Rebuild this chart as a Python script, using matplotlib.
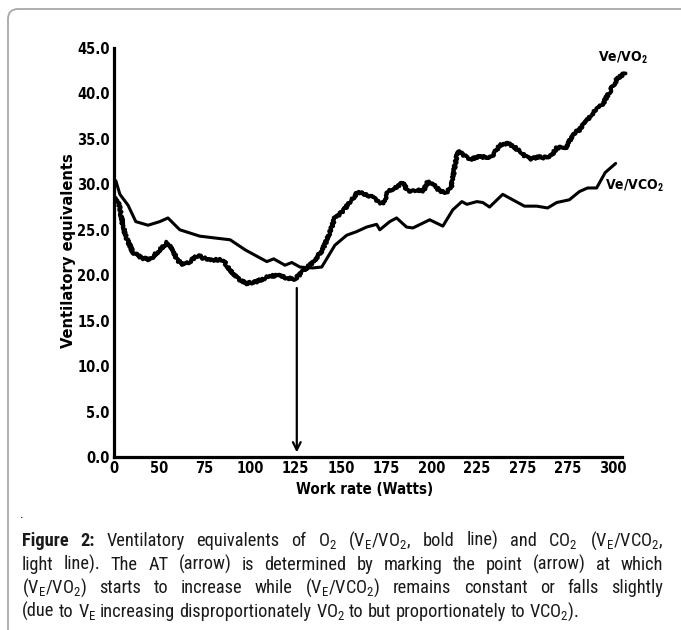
import matplotlib
matplotlib.use("Agg")
import matplotlib.pyplot as plt
from matplotlib import font_manager
from matplotlib.patches import FancyBboxPatch
from matplotlib.transforms import IdentityTransform

# ---- data -------------------------------------------------------------
# x positions are the evenly spaced work-rate marks on the axis (0..11)
x_tick_labels = ["0", "50", "75", "100", "125", "150", "175", "200",
                 "225", "275", "275", "300"]
y_tick_values = [0, 5, 10, 15, 20, 25, 30, 35, 40, 45]

# Ve/VCO2 (light line)
vco2_x = [0.04, 0.13, 0.31, 0.48, 0.75, 1.01, 1.19, 1.45, 1.89, 2.22, 2.56,
          2.89, 3.22, 3.37, 3.52, 3.77, 3.92, 4.10, 4.38, 4.58, 4.87, 5.13,
          5.35, 5.57, 5.79, 5.86, 6.08, 6.23, 6.45, 6.59, 6.96, 7.25, 7.47,
          7.67, 7.78, 8.00, 8.13, 8.28, 8.57, 8.79, 9.05, 9.32, 9.56, 9.76,
          10.04, 10.26, 10.44, 10.64, 10.83, 11.06]
vco2_y = [30.4, 28.9, 27.7, 25.9, 25.5, 25.9, 26.3, 25.0, 24.3, 24.1, 23.9,
          22.8, 21.9, 21.5, 21.8, 21.1, 21.4, 20.9, 20.8, 20.9, 23.3, 24.4,
          24.8, 25.3, 25.6, 25.0, 25.9, 26.3, 25.3, 25.2, 26.1, 25.4, 27.2,
          28.1, 27.8, 28.1, 28.0, 27.5, 28.9, 28.3, 27.6, 27.6, 27.4, 28.0,
          28.3, 29.2, 29.6, 29.6, 31.3, 32.3]

# Ve/VO2 (bold line)
vo2_x = [0.04, 0.13, 0.20, 0.29, 0.42, 0.62, 0.79, 0.95, 1.17, 1.28, 1.39,
         1.52, 1.67, 1.85, 1.96, 2.18, 2.40, 2.51, 2.71, 2.93, 3.15, 3.37,
         3.59, 3.81, 3.99, 4.16, 4.38, 4.60, 4.76, 4.87, 5.04, 5.24, 5.37,
         5.57, 5.79, 5.93, 6.04, 6.19, 6.37, 6.48, 6.67, 6.81, 6.92, 7.07,
         7.18, 7.33, 7.44, 7.51, 7.58, 7.69, 7.84, 8.00, 8.13, 8.33, 8.50,
         8.68, 8.83, 9.01, 9.16, 9.38, 9.60, 9.76, 9.98, 10.11, 10.26, 10.44,
         10.59, 10.77, 10.93, 11.08, 11.26]
vo2_y = [28.5, 27.5, 25.3, 23.9, 22.5, 21.9, 21.7, 22.5, 23.6, 23.0, 21.7,
         21.1, 21.5, 22.2, 21.9, 21.7, 21.7, 20.9, 19.7, 19.1, 19.3, 19.8,
         20.0, 19.7, 19.6, 20.4, 21.4, 22.8, 24.7, 26.3, 27.0, 28.3, 29.1,
         28.9, 28.3, 27.8, 29.2, 29.6, 30.2, 29.2, 29.4, 29.2, 30.3, 30.0,
         29.2, 29.1, 29.7, 31.9, 33.6, 33.3, 32.7, 33.0, 33.0, 33.0, 34.3,
         34.5, 34.1, 33.3, 32.8, 33.0, 32.9, 34.0, 34.1, 35.5, 36.0, 37.1,
         38.0, 38.8, 40.2, 41.5, 42.3]

# anaerobic threshold marker
at_x = 4.03
at_top = 18.9

caption_lines = [
    "Figure 2: Ventilatory equivalents of O$_2$ (V$_{\\mathrm{E}}$/VO$_2$, bold line) "
    "and CO$_2$ (V$_{\\mathrm{E}}$/VCO$_2$,",
    "light line). The AT (arrow) is determined by marking the point (arrow) at which",
    "(V$_{\\mathrm{E}}$/VO$_2$) starts to increase while (V$_{\\mathrm{E}}$/VCO$_2$) "
    "remains constant or falls slightly",
    "(due to V$_{\\mathrm{E}}$ increasing disproportionately VO$_2$ to but "
    "proportionately to VCO$_2$).",
]

# ---- fonts ------------------------------------------------------------
installed = {f.name for f in font_manager.fontManager.ttflist}


def first_installed(prefs, default):
    for name in prefs:
        if name in installed:
            return name
    return default


cap_family = first_installed(["Liberation Sans Narrow", "Roboto Condensed",
                              "Archivo Narrow", "PT Sans Narrow"], None)
cap_size = 13.2 if cap_family else 11.2
if cap_family is None:
    cap_family = "Liberation Sans"
hand = dict(family="DejaVu Sans", fontweight="bold", fontstretch="condensed")

plt.rcParams["mathtext.fontset"] = "custom"
plt.rcParams["mathtext.rm"] = cap_family
plt.rcParams["mathtext.it"] = cap_family + ":italic"
plt.rcParams["mathtext.bf"] = cap_family + ":bold"

FW, FH, DPI = 681, 630, 100
fig = plt.figure(figsize=(FW / DPI, FH / DPI), dpi=DPI)
fig.patch.set_facecolor("white")

# ---- axes -------------------------------------------------------------
ax = fig.add_axes([114 / FW, (FH - 457) / FH, 508 / FW, 409 / FH])
ax.set_xlim(0, 11.2)
ax.set_ylim(0, 45)
for side in ("top", "right"):
    ax.spines[side].set_visible(False)
for side in ("left", "bottom"):
    ax.spines[side].set_linewidth(2.3)
    ax.spines[side].set_color("black")

tick_fs = 10.5
ax.set_xticks(range(len(x_tick_labels)))
ax.set_xticklabels(x_tick_labels, fontsize=tick_fs, **hand)
ax.set_yticks(y_tick_values)
ax.set_yticklabels([f"{v:.1f}" for v in y_tick_values], fontsize=tick_fs,
                   **hand)
ax.tick_params(length=0, pad=3)

ln_co2, = ax.plot(vco2_x, vco2_y, color="black", lw=2.2, clip_on=False,
                  solid_capstyle="round", solid_joinstyle="round")
ln_o2, = ax.plot(vo2_x, vo2_y, color="black", lw=2.8, clip_on=False,
                 solid_capstyle="round", solid_joinstyle="round")
ln_o2.set_sketch_params(scale=1.2, length=3, randomness=3)

ax.annotate("", xy=(at_x, 0.2), xytext=(at_x, at_top),
            arrowprops=dict(arrowstyle="->", color="black", lw=1.6,
                            mutation_scale=14))

lab_fs = 10
ax.text(11.23, 43.9, "Ve/VO$_\\mathbf{2}$", fontsize=lab_fs, ha="center",
        va="center", clip_on=False, **hand)
ax.text(11.48, 29.8, "Ve/VCO$_\\mathbf{2}$", fontsize=lab_fs, ha="center",
        va="center", clip_on=False, **hand)

fig.text(68 / FW, 1 - 251 / FH, "Ventilatory equivalents", rotation=90,
         fontsize=11.8, ha="center", va="center", **hand)
fig.text(365 / FW, 1 - 489 / FH, "Work rate (Watts)", fontsize=10.8,
         ha="center", va="center", **hand)

# ---- frame ------------------------------------------------------------
frame = FancyBboxPatch((8, -60), 760, FH - 9 + 60,
                       boxstyle="round,pad=0,rounding_size=10",
                       transform=IdentityTransform(), fill=False,
                       edgecolor="#a8a8a8", lw=1.3)
fig.add_artist(frame)

# ---- caption (justified) -----------------------------------------------
fig.text(20 / FW, 1 - 518 / FH, ".", fontsize=10, family=cap_family)

renderer = fig.canvas.get_renderer()
x_left, x_right = 22, 663
baselines = [546, 570, 593, 617]


def text_width(s):
    t = fig.text(0, 0, s, fontsize=cap_size, family=cap_family)
    w = t.get_window_extent(renderer).width
    t.remove()
    return w


space_w = text_width("a a") - 2 * text_width("a")
for i, line in enumerate(caption_lines):
    words = line.split(" ")
    arts = []
    for j, w in enumerate(words):
        bold = i == 0 and j < 2
        t = fig.text(0, 1 - baselines[i] / FH, w, fontsize=cap_size,
                     family=cap_family, fontweight="bold" if bold else "normal",
                     va="baseline", ha="left", color="#1a1a1a")
        arts.append(t)
    widths = [a.get_window_extent(renderer).width for a in arts]
    if i < len(caption_lines) - 1:
        gap = (x_right - x_left - sum(widths)) / (len(words) - 1)
    else:
        gap = space_w
    x = x_left
    for a, w in zip(arts, widths):
        a.set_x(x / FW)
        x += w + gap

fig.savefig("out.png", dpi=DPI)
